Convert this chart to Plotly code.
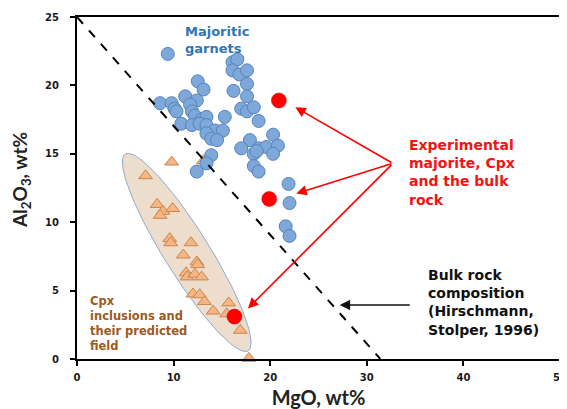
import numpy as np
import plotly.graph_objects as go

# ---- data ----
mgo_garnet = [9.4, 16.1, 16.6, 16.1, 16.8, 17.6, 17.6, 16.2, 12.5, 13.1, 17.6, 17.0, 17.6, 18.3,
              18.8, 15.3, 8.6, 9.8, 10.1, 10.3, 11.2, 12.4, 11.7, 11.9, 12.2, 12.9, 13.4, 10.8,
              11.9, 12.7, 13.4, 14.3, 15.1, 13.4, 13.9, 14.5, 13.9, 17.9, 17.0, 18.8, 19.6, 20.3,
              20.8, 20.3, 18.3, 13.4, 12.4, 18.6, 18.3, 18.8, 21.9, 22.0, 21.6, 22.0]
al2o3_garnet = [22.3, 21.7, 21.9, 21.1, 20.8, 21.1, 20.1, 19.6, 20.3, 19.7, 19.2, 18.3, 18.1, 18.4,
                17.4, 17.7, 18.7, 18.7, 18.3, 18.1, 19.2, 18.9, 18.6, 18.1, 17.8, 17.5, 17.7, 17.2,
                17.1, 17.2, 17.1, 16.7, 16.7, 16.5, 16.1, 16.0, 14.9, 16.0, 15.4, 15.4, 15.5, 16.4,
                15.6, 15.0, 15.0, 14.3, 13.7, 15.2, 14.1, 13.7, 12.8, 11.4, 9.7, 9.0]

mgo_cpx = [9.8, 13.1, 7.1, 8.3, 8.9, 8.6, 9.9, 9.6, 9.7, 11.8, 11.0, 12.4, 12.5, 11.3, 11.4,
           12.2, 12.9, 12.0, 12.7, 13.2, 14.1, 15.7, 15.5, 16.9, 17.8]
al2o3_cpx = [14.4, 14.5, 13.4, 11.3, 10.8, 10.5, 11.0, 8.8, 8.5, 8.5, 7.6, 7.1, 6.9, 6.3, 6.0,
             6.2, 6.0, 4.75, 4.7, 4.2, 3.5, 4.1, 3.3, 2.1, 0.05]

mgo_exp = [20.9, 19.9, 16.3]
al2o3_exp = [18.9, 11.7, 3.1]

bulk_line_mgo = [0, 31.4]
bulk_line_al2o3 = [25, 0]

x_ticks = [0, 10, 20, 30, 40, 50]
y_ticks = [0, 5, 10, 15, 20, 25]

# ---- layout geometry (page body has an 8px margin) ----
W, H = 567, 401
ML, MR, MT, MB = 69, 15, 9, 50
XR, YR = [0, 50], [0, 25]
sx = (W - ML - MR) / (XR[1] - XR[0])
sy = (H - MT - MB) / (YR[1] - YR[0])

# predicted Cpx field (ellipse): centre in data units, axes in pixels
ell_cx, ell_cy = 11.36, 7.79
ell_a, ell_b = 116, 22.5
ell_ang = np.deg2rad(-58)
t = np.linspace(0, 2 * np.pi, 120)
ux, uy = ell_a * np.cos(t), ell_b * np.sin(t)
px = ux * np.cos(ell_ang) - uy * np.sin(ell_ang)
py = ux * np.sin(ell_ang) + uy * np.cos(ell_ang)
ell_x = ell_cx + px / sx
ell_y = ell_cy + py / sy

fig = go.Figure()
fig.add_trace(go.Scatter(x=ell_x, y=ell_y, mode="lines", fill="toself",
                         fillcolor="#EDDDCC", line=dict(color="#8FA9CF", width=1),
                         hoverinfo="skip", showlegend=False))
fig.add_trace(go.Scatter(x=mgo_cpx, y=al2o3_cpx, mode="markers", cliponaxis=False,
                         marker=dict(symbol="triangle-up", size=12, color="#F5B584",
                                     line=dict(color="#C8864F", width=1)),
                         showlegend=False))
fig.add_trace(go.Scatter(x=mgo_garnet, y=al2o3_garnet, mode="markers",
                         marker=dict(symbol="circle", size=13, color="#7EA8D9",
                                     line=dict(color="#5583BC", width=1)),
                         showlegend=False))
fig.add_trace(go.Scatter(x=bulk_line_mgo, y=bulk_line_al2o3, mode="lines",
                         line=dict(color="black", width=2, dash="dash"),
                         showlegend=False))
fig.add_trace(go.Scatter(x=mgo_exp, y=al2o3_exp, mode="markers",
                         marker=dict(symbol="circle", size=15, color="#FF0000",
                                     line=dict(color="#E00000", width=0.5)),
                         showlegend=False))

TXT = "DejaVu Sans"
ann = []
ann.append(dict(x=11.0, y=23.3, xref="x", yref="y", showarrow=False, align="left",
                xanchor="left", yanchor="middle",
                text="<b>Majoritic<br>garnets</b>",
                font=dict(family=TXT, size=13, color="#2E75B6")))
ann.append(dict(x=34.2, y=13.6, xref="x", yref="y", showarrow=False, align="left",
                xanchor="left", yanchor="middle",
                text="<b>Experimental<br>majorite, Cpx<br>and the bulk<br>rock</b>",
                font=dict(family=TXT, size=14, color="#F01414")))
ann.append(dict(x=36.1, y=4.1, xref="x", yref="y", showarrow=False, align="left",
                xanchor="left", yanchor="middle",
                text="<b>Bulk rock<br>composition<br>(Hirschmann,<br>Stolper, 1996)</b>",
                font=dict(family=TXT, size=14, color="#111111")))
ann.append(dict(x=1.1, y=2.6, xref="x", yref="y", showarrow=False, align="left",
                xanchor="left", yanchor="middle",
                text="<b>Cpx<br>inclusions and<br>their predicted<br>field</b>",
                font=dict(family=TXT, size=11.5, color="#9C5A1E")))
# y-axis title placed as a rotated annotation
ann.append(dict(x=-0.116, y=0.523, xref="paper", yref="paper", showarrow=False,
                xanchor="center", yanchor="middle", textangle=-90,
                text="Al<sub>2</sub>O<sub>3</sub>, wt%",
                font=dict(family="Lato", size=19, color="#222222", weight="bold")))
# red arrows from the label
tail = (32.7, 14.3)
for hx, hy in [(22.6, 18.4), (22.7, 12.1), (17.7, 3.7)]:
    ann.append(dict(x=hx, y=hy, ax=tail[0], ay=tail[1], xref="x", yref="y",
                    axref="x", ayref="y", text="", showarrow=True,
                    arrowhead=2, arrowsize=1.3, arrowwidth=1.6, arrowcolor="#FF0000"))
# black arrow to the bulk-rock line
ann.append(dict(x=27.2, y=3.95, ax=34.6, ay=3.95, xref="x", yref="y",
                axref="x", ayref="y", text="", showarrow=True,
                arrowhead=2, arrowsize=1.3, arrowwidth=1.6, arrowcolor="#111111"))

axis_common = dict(showgrid=False, zeroline=False, showline=True, linecolor="black",
                   linewidth=2, mirror=True, ticks="outside", ticklen=5, tickwidth=1.5,
                   tickcolor="black", ticklabeloverflow="allow",
                   tickfont=dict(family=TXT, size=10, color="#1A1A1A", weight="bold"))

fig.update_layout(
    width=W, height=H,
    margin=dict(l=ML, r=MR, t=MT, b=MB, autoexpand=False),
    paper_bgcolor="white", plot_bgcolor="white",
    annotations=ann,
    xaxis=dict(range=XR, tickvals=x_ticks, ticktext=[str(v) for v in x_ticks],
               ticklabelstandoff=3,
               title=dict(text="MgO, wt%", standoff=10,
                          font=dict(family="Lato", size=20, color="#222222", weight="bold")),
               **axis_common),
    yaxis=dict(range=YR, tickvals=y_ticks, ticktext=[str(v) for v in y_ticks],
               ticklabelstandoff=9, **axis_common),
)

fig.write_html("out.html")
